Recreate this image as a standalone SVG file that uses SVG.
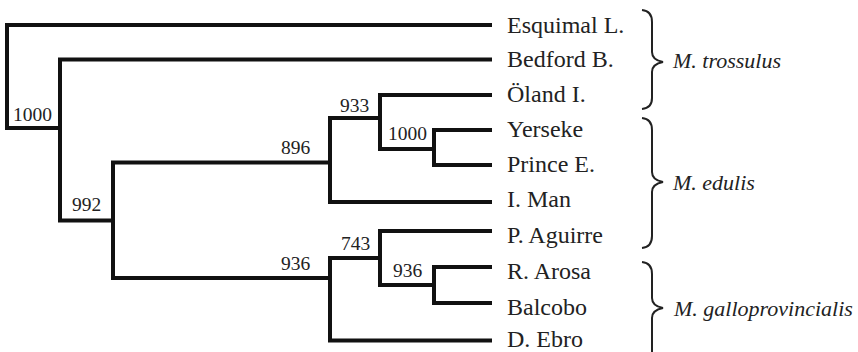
<svg xmlns="http://www.w3.org/2000/svg" width="858" height="352" viewBox="0 0 858 352">
<style>
.br{fill:none;stroke:#111;stroke-width:4;stroke-linejoin:miter;stroke-linecap:square}
.brace{fill:none;stroke:#222;stroke-width:2}
.lab{font-family:"Liberation Serif","Times New Roman",serif;font-size:24px;fill:#222}
.sp{font-family:"Liberation Serif","Times New Roman",serif;font-size:22px;font-style:italic;fill:#222}
.bs{font-family:"Liberation Serif","Times New Roman",serif;font-size:19.5px;fill:#222}
</style>
<rect width="858" height="352" fill="#fff"/>
<g id="connectors">
<path class="br" d="M490 25H7V128H60"/>
<path class="br" d="M490 59.5H60V220.5H113"/>
<path class="br" d="M330 162.5H113V278H330"/>
<path class="br" d="M380 118H330V202H490"/>
<path class="br" d="M490 95H380V149H434"/>
<path class="br" d="M490 130H434V165H490"/>
<path class="br" d="M380 258H330V340.5H490"/>
<path class="br" d="M490 231H380V285H434"/>
<path class="br" d="M490 267H434V303H490"/>
</g>
<g id="bootstrap">
<text class="bs" x="13" y="121">1000</text>
<text class="bs" x="72" y="211">992</text>
<text class="bs" x="281" y="154">896</text>
<text class="bs" x="340" y="112">933</text>
<text class="bs" x="388" y="140">1000</text>
<text class="bs" x="281" y="270">936</text>
<text class="bs" x="341" y="250">743</text>
<text class="bs" x="393" y="277">936</text>
</g>
<g id="leaf-esquimal"><text class="lab" x="507" y="33">Esquimal L.</text></g>
<g id="leaf-bedford"><text class="lab" x="507" y="67">Bedford B.</text></g>
<g id="leaf-oland"><text class="lab" x="507" y="102">Öland I.</text></g>
<g id="leaf-yerseke"><text class="lab" x="507" y="137">Yerseke</text></g>
<g id="leaf-prince"><text class="lab" x="507" y="172">Prince E.</text></g>
<g id="leaf-iman"><text class="lab" x="507" y="207">I. Man</text></g>
<g id="leaf-aguirre"><text class="lab" x="507" y="243">P. Aguirre</text></g>
<g id="leaf-arosa"><text class="lab" x="507" y="279">R. Arosa</text></g>
<g id="leaf-balcobo"><text class="lab" x="507" y="315">Balcobo</text></g>
<g id="leaf-ebro"><text class="lab" x="507" y="347">D. Ebro</text></g>
<g id="group-trossulus">
<path class="brace" d="M642 10Q652 11 652 22V52Q652 60 663 62Q652 64 652 72V98Q652 108 642 109"/>
<text class="sp" x="673" y="68">M. trossulus</text>
</g>
<g id="group-edulis">
<path class="brace" d="M642 118Q652 119 652 130V172Q652 180 663 182Q652 184 652 192V236Q652 247 642 248"/>
<text class="sp" x="673" y="190">M. edulis</text>
</g>
<g id="group-galloprovincialis">
<path class="brace" d="M642 262Q652 263 652 274V298Q652 306 663 308Q652 310 652 318V356"/>
<text class="sp" x="674" y="316">M. galloprovincialis</text>
</g>
</svg>
